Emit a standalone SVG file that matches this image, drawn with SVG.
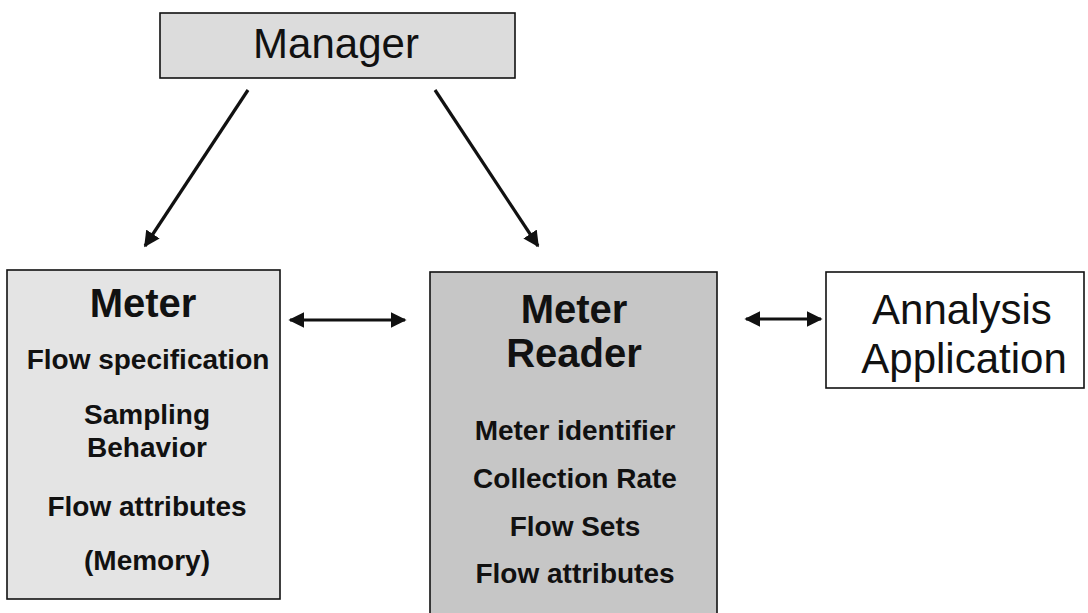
<svg xmlns="http://www.w3.org/2000/svg" width="1088" height="613" viewBox="0 0 1088 613">
<defs>
<style>
.box{stroke:#111;stroke-width:1.6}
.t{font-family:"Liberation Sans",Arial,sans-serif;fill:#111;text-anchor:middle}
.big{font-size:42px}
.bigb{font-size:40px;font-weight:bold}
.item{font-size:28px;font-weight:bold}
.conn{stroke:#111;stroke-width:3.2;fill:none}
</style>
<marker id="ah" viewBox="0 0 10 10" refX="9" refY="5" markerWidth="5" markerHeight="5" orient="auto-start-reverse" markerUnits="strokeWidth">
<path d="M0,0 L10,5 L0,10 z" fill="#111"/>
</marker>
</defs>
<rect width="1088" height="613" fill="#fff"/>
<g id="manager">
<rect class="box" x="160" y="13" width="355" height="65" fill="#dcdcdc"/>
<text class="t big" x="336" y="58">Manager</text>
</g>
<g id="meter">
<rect class="box" x="7" y="270" width="273" height="329" fill="#e4e4e4"/>
<text class="t bigb" x="143" y="317">Meter</text>
<text class="t item" x="148" y="369">Flow specification</text>
<text class="t item" x="147" y="424">Sampling</text>
<text class="t item" x="147" y="457">Behavior</text>
<text class="t item" x="147" y="516">Flow attributes</text>
<text class="t item" x="147" y="570">(Memory)</text>
</g>
<g id="meter-reader">
<rect class="box" x="430" y="272" width="287" height="350" fill="#c6c6c6"/>
<text class="t bigb" x="574" y="323">Meter</text>
<text class="t bigb" x="574" y="367">Reader</text>
<text class="t item" x="575" y="440">Meter identifier</text>
<text class="t item" x="575" y="488">Collection Rate</text>
<text class="t item" x="575" y="536">Flow Sets</text>
<text class="t item" x="575" y="583">Flow attributes</text>
</g>
<g id="analysis">
<rect class="box" x="826" y="272" width="258" height="116" fill="#fff"/>
<text class="t big" x="962" y="324">Annalysis</text>
<text class="t big" x="964" y="373">Application</text>
</g>
<g id="connectors">
<line class="conn" x1="248" y1="90" x2="145" y2="246" marker-end="url(#ah)"/>
<line class="conn" x1="435" y1="90" x2="538" y2="246" marker-end="url(#ah)"/>
<line class="conn" x1="290" y1="320" x2="405" y2="320" marker-start="url(#ah)" marker-end="url(#ah)"/>
<line class="conn" x1="746" y1="319" x2="821" y2="319" marker-start="url(#ah)" marker-end="url(#ah)"/>
</g>
</svg>
